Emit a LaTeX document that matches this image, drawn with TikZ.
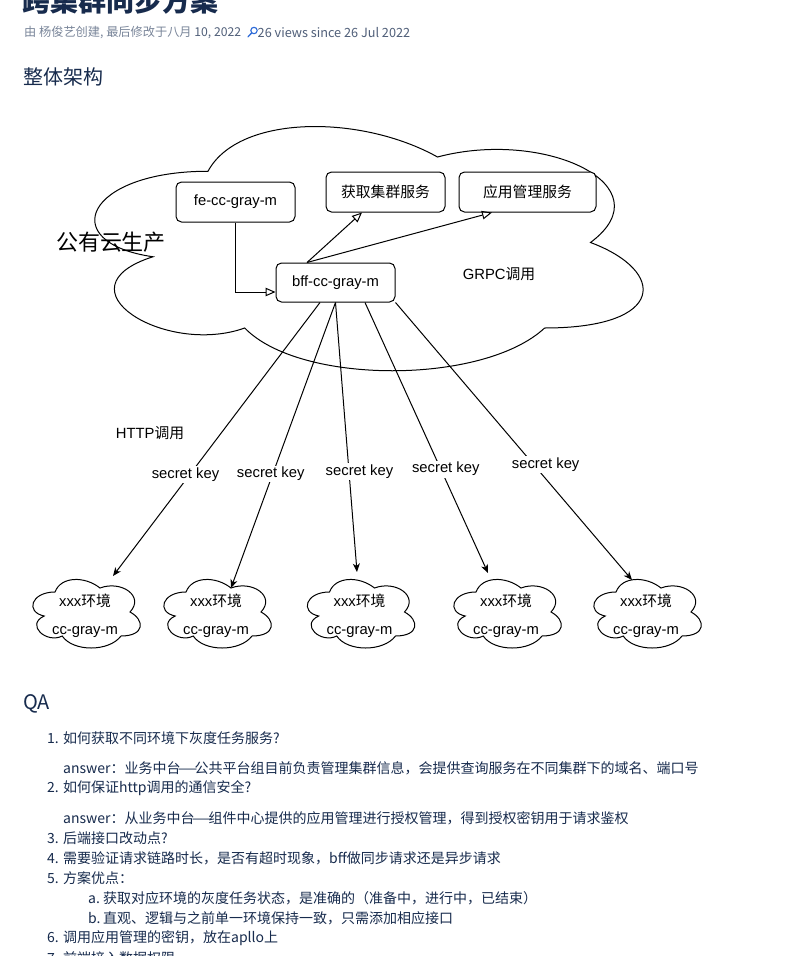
\documentclass[tikz,border=0pt]{standalone}
\usepackage{fontspec}
\usepackage{graphicx}
\setmainfont{Liberation Sans}
\newfontfamily\cjk{Noto Sans CJK SC}
\usetikzlibrary{arrows.meta,calc}

\definecolor{ink}{HTML}{172B4D}
\definecolor{metagray}{HTML}{7A869A}
\definecolor{metadark}{HTML}{505F79}
\definecolor{iconblue}{HTML}{2C6AD8}

% diagram text size and CJK runs inside diagram labels
\newcommand\dg{\fontsize{14.8}{17.8}\selectfont}
\newcommand\hz[1]{{\cjk #1}}
% full-width dash
\newcommand\fwdash{\makebox[1em]{\scalebox{1.6}[1]{—}}}

\tikzset{
  % draw.io style cloud outline in a unit box (0..1 x 0..1, y downwards)
  mxcloud/.pic={
    \draw[line width=1pt, fill=white]
      (.25,.25) .. controls (.05,.25) and (0,.5) .. (.16,.55)
      .. controls (0,.66) and (.18,.9) .. (.31,.8)
      .. controls (.4,1) and (.7,1) .. (.8,.8)
      .. controls (1,.8) and (1,.6) .. (.875,.5)
      .. controls (1,.3) and (.8,.1) .. (.625,.2)
      .. controls (.5,.05) and (.3,.05) .. (.25,.25) -- cycle;
  },
  box/.style={draw=black, line width=1pt, rounded corners=5.5pt, fill=white,
    inner sep=0pt, minimum height=40pt, font=\dg},
  link/.style={line width=1pt, draw=black},
  hollow/.style={link, -{Triangle[open, length=10pt, width=8.5pt]}},
  keyarrow/.style={link, -{Stealth[length=8.5pt, width=7pt, inset=2.5pt]}},
  keylbl/.style={fill=white, inner sep=1.5pt, font=\dg},
  cloudtxt/.style={align=center, inner sep=0pt, font=\dg},
  page/.style={anchor=west, inner sep=0pt, text=ink},
  li/.style={page, font=\fontsize{14}{17}\selectfont\cjk},
}

\begin{document}
\begin{tikzpicture}[x=1pt, y=-1pt]
\useasboundingbox (0,0) rectangle (786,956);
\clip (0,0) rectangle (786,956);
\fill[white] (0,0) rectangle (786,956);

% ---------- page header ----------
\node[page, font=\fontsize{28}{34}\selectfont\cjk\bfseries] (title) at (22,0.5) {跨集群同步方案};
\node[page, text=metagray, font=\fontsize{12.2}{15}\selectfont\cjk] (meta) at (24,33)
  {由 杨俊艺创建, 最后修改于八月 \textcolor{metadark}{10, 2022}};
% magnifier icon
\draw[iconblue, line width=1.1pt] (254,30.5) circle[radius=3.2];
\draw[iconblue, line width=1.3pt, line cap=round] (251.6,33) -- (248,36.8);
\node[page, text=metadark, font=\fontsize{12.7}{15}\selectfont\cjk] (views) at (257.5,33)
  {26 views since 26 Jul 2022};
\node[page, font=\fontsize{20}{24}\selectfont\cjk] (h1) at (23,77) {整体架构};

% ---------- architecture diagram ----------
\pic[xscale=612, yscale=285] at (55,100) {mxcloud};

\node[box, minimum width=119pt] (fe)   at (235.5,202)  {fe-cc-gray-m};
\node[box, minimum width=119pt, minimum height=39pt] (bff) at (335.5,282.5) {bff-cc-gray-m};
\node[box, minimum width=119pt] (svc1) at (385.5,192)  {\hz{获取集群服务}};
\node[box, minimum width=137pt] (svc2) at (527.5,192)  {\hz{应用管理服务}};

\node[inner sep=0pt, font=\fontsize{22}{26}\selectfont\cjk] (pub) at (111,242) {公有云生产};
\node[inner sep=0pt, font=\dg] (grpc) at (499,274) {GRPC\hz{调用}};
\node[inner sep=0pt, font=\dg] (http) at (150,433) {HTTP\hz{调用}};

\draw[hollow] (fe.south) |- ($(bff.west)+(0,9.5)$);
\draw[hollow] ($(bff.north)+(-28.5,0)$) -- ($(svc1.south)+(-23.5,0)$);
\draw[hollow] ($(bff.north)+(-28.5,0)$) -- ($(svc2.south)+(-35.5,0)$);

% environment clouds
\foreach \n/\cx in {1/85,2/216,3/359.5,4/506,5/646}{
  \pic[xscale=120, yscale=80] at ({\cx-60},572) {mxcloud};
  \node[cloudtxt] (c\n) at (\cx,615.5) {xxx\hz{环境}\\[10pt]cc-gray-m};
}

\draw[keyarrow] ($(bff.south)+(-15.5,0)$) -- node[keylbl, pos=0.628, xshift=-4.5pt] (k1) {secret key} ($(c1)+(28,-39.5)$);
\draw[keyarrow] (bff.south) -- node[keylbl, pos=0.601, xshift=-2pt] (k2) {secret key} ($(c2)+(15,-27.5)$);
\draw[keyarrow] (bff.south) -- node[keylbl, pos=0.626, xshift=10.5pt] (k3) {secret key} ($(c3)+(-2.5,-43.5)$);
\draw[keyarrow] ($(bff.south)+(29.5,0)$) -- node[keylbl, pos=0.616, xshift=5pt] (k4) {secret key} ($(c4)+(-18,-42.5)$);
\draw[keyarrow] (bff.south east) -- node[keylbl, pos=0.583, xshift=12.3pt] (k5) {secret key} ($(c5)+(-14,-35.5)$);

% ---------- QA ----------
\node[page, font=\fontsize{20}{24}\selectfont\cjk] (qa) at (23,704) {QA};
\node[li] (q1) at (47,738) {\makebox[16pt][l]{1.}如何获取不同环境下灰度任务服务?};
\node[li] (a1) at (63,768) {answer：业务中台\fwdash 公共平台组目前负责管理集群信息，会提供查询服务在不同集群下的域名、端口号};
\node[li] (q2) at (47,788) {\makebox[16pt][l]{2.}如何保证http调用的通信安全?};
\node[li] (a2) at (63,818) {answer：从业务中台\fwdash 组件中心提供的应用管理进行授权管理，得到授权密钥用于请求鉴权};
\node[li] (q3) at (47,838) {\makebox[16pt][l]{3.}后端接口改动点?};
\node[li] (q4) at (47,858) {\makebox[16pt][l]{4.}需要验证请求链路时长，是否有超时现象，bff做同步请求还是异步请求};
\node[li] (q5) at (47,878) {\makebox[16pt][l]{5.}方案优点：};
\node[li] (q5a) at (88,898) {\makebox[15pt][l]{a.}获取对应环境的灰度任务状态，是准确的（准备中，进行中，已结束）};
\node[li] (q5b) at (88,918) {\makebox[15pt][l]{b.}直观、逻辑与之前单一环境保持一致，只需添加相应接口};
\node[li] (q6) at (47,938) {\makebox[16pt][l]{6.}调用应用管理的密钥，放在apllo上};
\node[li] (q7) at (47,958) {\makebox[16pt][l]{7.}前端接入数据权限};
\end{tikzpicture}
\end{document}
